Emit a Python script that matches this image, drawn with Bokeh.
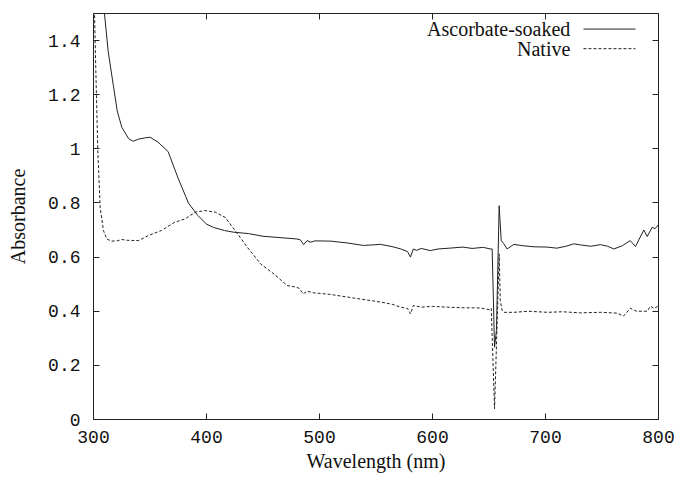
from bokeh.plotting import figure
from bokeh.models import FixedTicker, LinearAxis, Range1d, Label
from bokeh.embed import file_html
from bokeh.resources import INLINE

# ---- data ----
asc_wl = [300, 305, 309.7, 313, 317.7, 321, 325, 331, 335, 340, 345, 350, 357, 366, 375, 384,
          392, 400, 406, 416, 424, 437, 450, 465, 480, 483, 486, 489, 492, 496, 510, 525, 539,
          554, 565, 572, 578, 580.5, 583, 586, 590, 598, 605, 615, 627, 635, 645, 651, 652.8,
          654.9, 656.6, 659, 660.8, 663, 666, 672, 680, 690, 701.5, 710, 718, 725, 731, 740,
          748.7, 755, 760.5, 768, 775, 779.6, 787, 790, 794.4, 797, 800]
asc_abs = [2.3, 1.8, 1.5, 1.36, 1.23, 1.14, 1.08, 1.038, 1.028, 1.036, 1.04, 1.043, 1.025, 0.99,
           0.89, 0.80, 0.755, 0.722, 0.71, 0.698, 0.692, 0.687, 0.677, 0.672, 0.667, 0.664, 0.646,
           0.661, 0.655, 0.66, 0.659, 0.652, 0.643, 0.647, 0.638, 0.63, 0.62, 0.60, 0.63, 0.625,
           0.632, 0.624, 0.630, 0.633, 0.637, 0.632, 0.636, 0.630, 0.63, 0.267, 0.33, 0.79, 0.661,
           0.65, 0.63, 0.647, 0.642, 0.638, 0.637, 0.633, 0.64, 0.649, 0.645, 0.64, 0.646, 0.64,
           0.630, 0.642, 0.661, 0.639, 0.70, 0.676, 0.71, 0.705, 0.72]

nat_wl = [300, 300.9, 302, 303.8, 305.9, 308.8, 311.8, 316, 321, 325, 330, 340, 348.7, 360, 372,
          381, 390, 398.8, 407.7, 416.5, 425, 436, 447.8, 459.6, 471.4, 478, 482, 485.5, 489, 495,
          509.7, 530, 554, 565, 571.7, 578, 580.5, 583, 590, 600, 613, 625, 642.5, 651, 652,
          654.9, 657, 659, 660, 661.6, 663, 672, 685, 701.5, 715, 731, 748.7, 763.4, 769, 775,
          780.5, 790, 793, 796, 800]
nat_abs = [1.9, 1.5, 1.30, 0.994, 0.784, 0.698, 0.667, 0.659, 0.66, 0.665, 0.662, 0.661, 0.68,
           0.698, 0.729, 0.741, 0.766, 0.772, 0.766, 0.747, 0.70, 0.637, 0.575, 0.538, 0.495, 0.49,
           0.485, 0.464, 0.474, 0.468, 0.462, 0.449, 0.434, 0.425, 0.415, 0.41, 0.39, 0.421, 0.415,
           0.418, 0.415, 0.413, 0.412, 0.405, 0.41, 0.04, 0.33, 0.612, 0.44, 0.403, 0.396, 0.396,
           0.40, 0.396, 0.398, 0.394, 0.396, 0.393, 0.382, 0.411, 0.40, 0.40, 0.419, 0.41, 0.42]

x_ticks = [300, 400, 500, 600, 700, 800]
y_ticks = [0, 0.2, 0.4, 0.6, 0.8, 1.0, 1.2, 1.4]
y_tick_labels = ["0", "0.2", "0.4", "0.6", "0.8", "1", "1.2", "1.4"]
series_names = ["Ascorbate-soaked", "Native"]
x_title = "Wavelength (nm)"
y_title = "Absorbance"

TICK_FONT = "Liberation Mono"
SERIF = "Liberation Serif"
INK = "#222222"
TXT = "#111111"

p = figure(width=681, height=478, output_backend="svg", toolbar_location=None,
           x_range=Range1d(300, 800), y_range=Range1d(0, 1.5),
           min_border_left=93, min_border_right=23, min_border_top=13, min_border_bottom=59,
           x_axis_label=x_title, y_axis_label=y_title)
p.grid.visible = False
p.background_fill_color = "white"
p.border_fill_color = "white"
p.outline_line_color = INK
p.outline_line_width = 1

p.line(asc_wl, asc_abs, line_color=INK, line_width=1)
p.line(nat_wl, nat_abs, line_color=INK, line_width=1, line_dash="3 2")

def style_axis(ax, labels=True):
    ax.major_tick_in = 6
    ax.major_tick_out = 0
    ax.minor_tick_in = 0
    ax.minor_tick_out = 0
    ax.axis_line_color = INK
    ax.major_tick_line_color = INK
    ax.major_label_text_font = TICK_FONT
    ax.major_label_text_font_size = "18px"
    ax.major_label_text_color = TXT
    ax.axis_label_text_font = SERIF
    ax.axis_label_text_font_size = "20px"
    ax.axis_label_text_font_style = "normal"
    ax.axis_label_text_color = TXT
    if not labels:
        ax.major_label_text_font_size = "0px"
        ax.major_label_text_color = None

xa = p.xaxis[0]
xa.ticker = FixedTicker(ticks=x_ticks)
style_axis(xa)
xa.major_label_standoff = 11
xa.axis_label_standoff = 4

ya = p.yaxis[0]
ya.ticker = FixedTicker(ticks=y_ticks)
ya.major_label_overrides = {t: l for t, l in zip(y_ticks, y_tick_labels)}
style_axis(ya)
ya.major_label_standoff = 13
ya.axis_label_standoff = 16

top = LinearAxis(ticker=FixedTicker(ticks=x_ticks))
style_axis(top, labels=False)
p.add_layout(top, "above")
right = LinearAxis(ticker=FixedTicker(ticks=y_ticks))
style_axis(right, labels=False)
p.add_layout(right, "right")

# legend (gnuplot style: text then sample, top right)
leg_text_x = 722
leg_rows = [1.4425, 1.370]
leg_line = (733.6, 779.6)
dashes = ["solid", "3 2"]
for name, yy, dsh in zip(series_names, leg_rows, dashes):
    p.add_layout(Label(x=leg_text_x, y=yy, text=name, text_align="right", text_baseline="middle",
                       text_font=SERIF, text_font_size="20px", text_color=TXT))
    p.line([leg_line[0], leg_line[1]], [yy, yy], line_color=INK, line_width=1, line_dash=dsh)

open("out.html", "w").write(file_html(p, INLINE))
